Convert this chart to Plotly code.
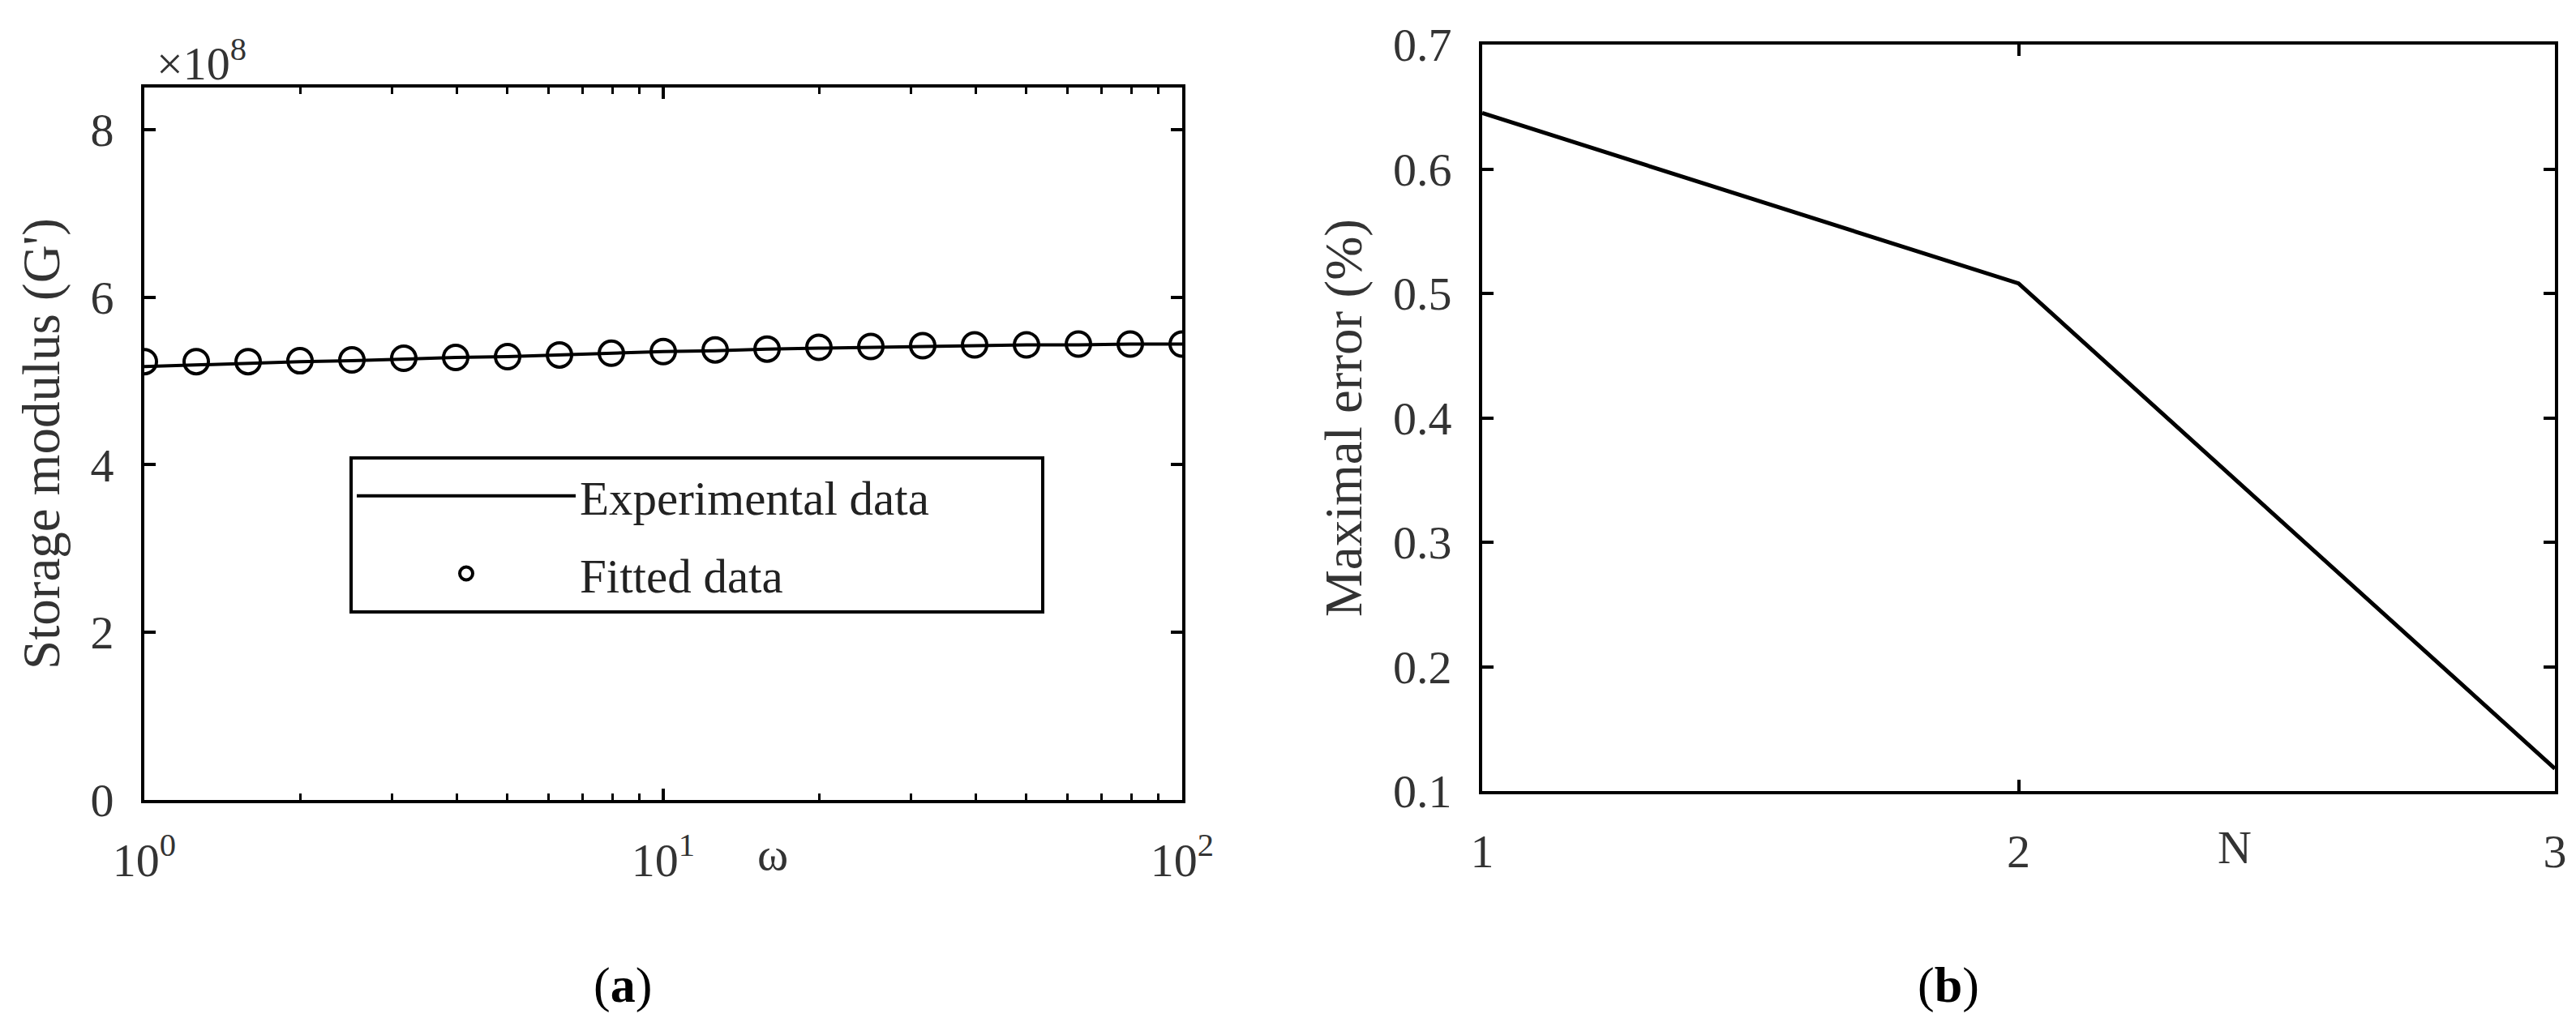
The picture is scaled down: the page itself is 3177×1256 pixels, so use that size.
import plotly.graph_objects as go

# ---------------- data ----------------
omega = [1.0, 1.259, 1.585, 1.995, 2.512, 3.162, 3.981, 5.012, 6.310, 7.943,
         10.0, 12.59, 15.85, 19.95, 25.12, 31.62, 39.81, 50.12, 63.10, 79.43, 100.0]
exp_G = [5.17, 5.19, 5.21, 5.23, 5.24, 5.26, 5.28, 5.29, 5.31, 5.33,
         5.35, 5.36, 5.38, 5.39, 5.40, 5.41, 5.42, 5.43, 5.43, 5.44, 5.44]
fit_G = [5.23, 5.23, 5.23, 5.24, 5.25, 5.27, 5.28, 5.29, 5.31, 5.33,
         5.35, 5.37, 5.38, 5.40, 5.41, 5.42, 5.43, 5.43, 5.44, 5.44, 5.44]
scale = 1e8
exp_G = [v * scale for v in exp_G]
fit_G = [v * scale for v in fit_G]

N_vals = [1, 2, 3]
max_err = [0.645, 0.508, 0.118]

y1_ticks = [0, 2e8, 4e8, 6e8, 8e8]
y1_ticktext = ["0", "2", "4", "6", "8"]
x1_ticks = [1, 10, 100]
x1_ticktext = ["10<sup>0</sup>", "10<sup>1</sup>", "10<sup>2</sup>"]
x1_minor = [2, 3, 4, 5, 6, 7, 8, 9, 20, 30, 40, 50, 60, 70, 80, 90]
y2_ticks = [0.1, 0.2, 0.3, 0.4, 0.5, 0.6, 0.7]
y2_ticktext = ["0.1", "0.2", "0.3", "0.4", "0.5", "0.6", "0.7"]
x2_ticks = [1, 2, 3]
x2_ticktext = ["1", "2", "3"]

W, H = 3177, 1256
FONT = "Liberation Serif"
TXT = "#333333"
TICK_FS = 58
TITLE_FS = 65
LEG_FS = 59
NBSP = "\u00a0"

fig = go.Figure()
fig.add_trace(go.Scatter(x=omega, y=exp_G, mode="lines",
                         name="Experimental data" + NBSP * 9, legendgroup="a",
                         line=dict(color="black", width=4), xaxis="x", yaxis="y"))
fig.add_trace(go.Scatter(x=omega, y=fit_G, mode="markers", name="Fitted data",
                         legendgroup="b",
                         marker=dict(symbol="circle-open", size=30, color="black",
                                     line=dict(width=4, color="black")),
                         xaxis="x", yaxis="y"))
fig.add_trace(go.Scatter(x=N_vals, y=max_err, mode="lines", showlegend=False,
                         line=dict(color="black", width=5), xaxis="x2", yaxis="y2"))

axis_common = dict(showline=True, linecolor="black", linewidth=4, mirror="ticks",
                   ticks="inside", ticklen=14, tickwidth=4, tickcolor="black",
                   showgrid=False, zeroline=False, automargin=False,
                   tickfont=dict(family=FONT, size=TICK_FS, color=TXT))

fig.update_layout(
    width=W, height=H,
    margin=dict(l=0, r=0, t=0, b=0),
    paper_bgcolor="white", plot_bgcolor="white",
    font=dict(family=FONT, color=TXT),
    xaxis=dict(domain=[170 / W, 1450 / W], anchor="y", type="log", range=[0, 2],
               tickvals=x1_ticks, ticktext=x1_ticktext, ticklabelstandoff=20,
               minor=dict(tickvals=x1_minor, ticks="inside", ticklen=8, tickwidth=3,
                          tickcolor="black", showgrid=False),
               **axis_common),
    yaxis=dict(domain=[1 - 979 / H, 1 - 100 / H], anchor="x", range=[0, 8.5e8],
               tickvals=y1_ticks, ticktext=y1_ticktext, ticklabelstandoff=22,
               title=dict(text="Storage modulus (G')", standoff=18,
                          font=dict(family=FONT, size=TITLE_FS, color=TXT)),
               **axis_common),
    xaxis2=dict(domain=[1820 / W, 3143 / W], anchor="y2", range=[1, 3],
                tickvals=x2_ticks, ticktext=x2_ticktext, ticklabelstandoff=20,
                **axis_common),
    yaxis2=dict(domain=[1 - 968 / H, 1 - 47 / H], anchor="x2", range=[0.1, 0.7],
                tickvals=y2_ticks, ticktext=y2_ticktext, ticklabelstandoff=22,
                title=dict(text="Maximal error (%)", standoff=18,
                           font=dict(family=FONT, size=TITLE_FS, color=TXT)),
                **axis_common),
    legend=dict(x=423 / W, y=1 - 555 / H, xanchor="left", yanchor="top",
                bordercolor="black", borderwidth=4, bgcolor="white",
                font=dict(family=FONT, size=LEG_FS, color="#222222"),
                traceorder="grouped", tracegroupgap=16,
                itemwidth=270),
)

annots = [
    dict(text="×10<sup>8</sup>", x=240 / W, y=1 - 67 / H),
    dict(text="ω", x=945 / W, y=1 - 1045 / H),
    dict(text="N", x=2748 / W, y=1 - 1037 / H),
]
for a in annots:
    fig.add_annotation(xref="paper", yref="paper", x=a["x"], y=a["y"], text=a["text"],
                       showarrow=False, xanchor="center", yanchor="middle",
                       font=dict(family=FONT, size=TICK_FS, color=TXT))

for lab, xc in [("(<b>a</b>)", 760 / W), ("(<b>b</b>)", 2395 / W)]:
    fig.add_annotation(xref="paper", yref="paper", x=xc, y=1 - 1207 / H, text=lab,
                       showarrow=False, xanchor="center", yanchor="middle",
                       font=dict(family=FONT, size=62, color="black"))

fig.write_html("out.html")
